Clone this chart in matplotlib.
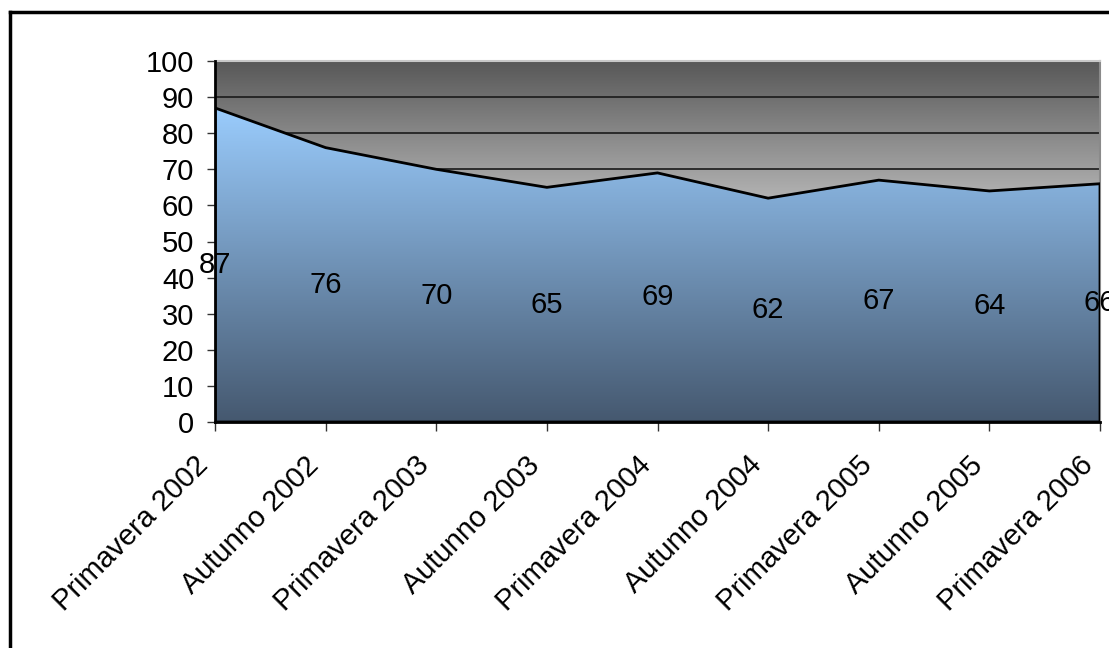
import numpy as np
import matplotlib
matplotlib.use("Agg")
import matplotlib.pyplot as plt
from matplotlib.lines import Line2D
from matplotlib.colors import to_rgb
from matplotlib.transforms import ScaledTranslation

plt.rcParams['font.family'] = ['Liberation Sans', 'DejaVu Sans']

categories = ["Primavera 2002", "Autunno 2002", "Primavera 2003", "Autunno 2003",
              "Primavera 2004", "Autunno 2004", "Primavera 2005", "Autunno 2005",
              "Primavera 2006"]
values = [87, 76, 70, 65, 69, 62, 67, 64, 66]
y_ticks = [0, 10, 20, 30, 40, 50, 60, 70, 80, 90, 100]

FS = 21
W, H = 1109, 648
fig = plt.figure(figsize=(W / 100, H / 100), dpi=100)
ax = fig.add_axes([215 / W, 1 - 422 / H, (1100 - 215) / W, (422 - 61) / H])

x = np.arange(len(categories))
ax.set_xlim(0, len(categories) - 1)
ax.set_ylim(0, 100)

# plot-area background: dark grey at top, lighter further down
n = 400
frac = np.linspace(1, 0, n)[:, None]          # 1 at top, 0 at bottom
vals = 100 * frac
grey = np.clip(88 + (100 - vals) * (167 / 70), 0, 255) / 255
bg = np.repeat(grey[:, :, None], 3, axis=2)
ax.imshow(bg, extent=[0, len(categories) - 1, 0, 100], aspect='auto',
          zorder=0, interpolation='bicubic')

# horizontal gridlines
for t in y_ticks[1:-1]:
    ax.axhline(t, color='#1a1a1a', lw=1.2, zorder=1)

# area with vertical blue gradient
vmax = max(values)
poly = ax.fill_between(x, values, 0, facecolor='none', edgecolor='black',
                       lw=2, zorder=3)
top_c = np.array(to_rgb('#9accfd'))
bot_c = np.array(to_rgb('#45586f'))
g = np.clip(vals / vmax, 0, 1)
blue = bot_c[None, None, :] + (top_c - bot_c)[None, None, :] * g[:, :, None]
im = ax.imshow(blue, extent=[0, len(categories) - 1, 0, 100], aspect='auto',
               zorder=2, interpolation='bicubic')
path = poly.get_paths()[0]
im.set_clip_path(path, transform=ax.transData)

# value labels at half height of each point
for xi, v in zip(x, values):
    ax.text(xi, v / 2, str(v), ha='center', va='center', fontsize=FS,
            color='black', zorder=5, clip_on=False)

ax.set_yticks(y_ticks)
ax.set_yticklabels([str(t) for t in y_ticks], fontsize=FS)
ax.set_xticks(x)
ax.set_xticklabels(categories, fontsize=FS, rotation=45, ha='right',
                   rotation_mode='anchor')
ax.tick_params(axis='y', direction='out', length=6, width=1, pad=9,
               color='#333333')
ax.tick_params(axis='x', direction='out', length=6.5, width=1, pad=10,
               color='#333333')

# nudge the slanted category labels to the left of their ticks
shift = ScaledTranslation(-21 / 100, -6 / 100, fig.dpi_scale_trans)
for lab in ax.get_xticklabels():
    lab.set_transform(lab.get_transform() + shift)

for side in ['left', 'bottom']:
    ax.spines[side].set_color('black')
    ax.spines[side].set_linewidth(2)
    ax.spines[side].set_zorder(6)
ax.spines['right'].set_color('#8a8a8a')
ax.spines['right'].set_linewidth(1.5)
ax.spines['top'].set_color('#c8c8c8')
ax.spines['top'].set_linewidth(1.5)

# outer chart frame
fx = 10 / W
fy = 1 - 11.5 / H
fig.add_artist(Line2D([fx, fx], [0, fy], transform=fig.transFigure,
                      color='black', lw=2.5))
fig.add_artist(Line2D([fx, 1.01], [fy, fy], transform=fig.transFigure,
                      color='black', lw=2.5))

fig.savefig('out.png', dpi=100)
